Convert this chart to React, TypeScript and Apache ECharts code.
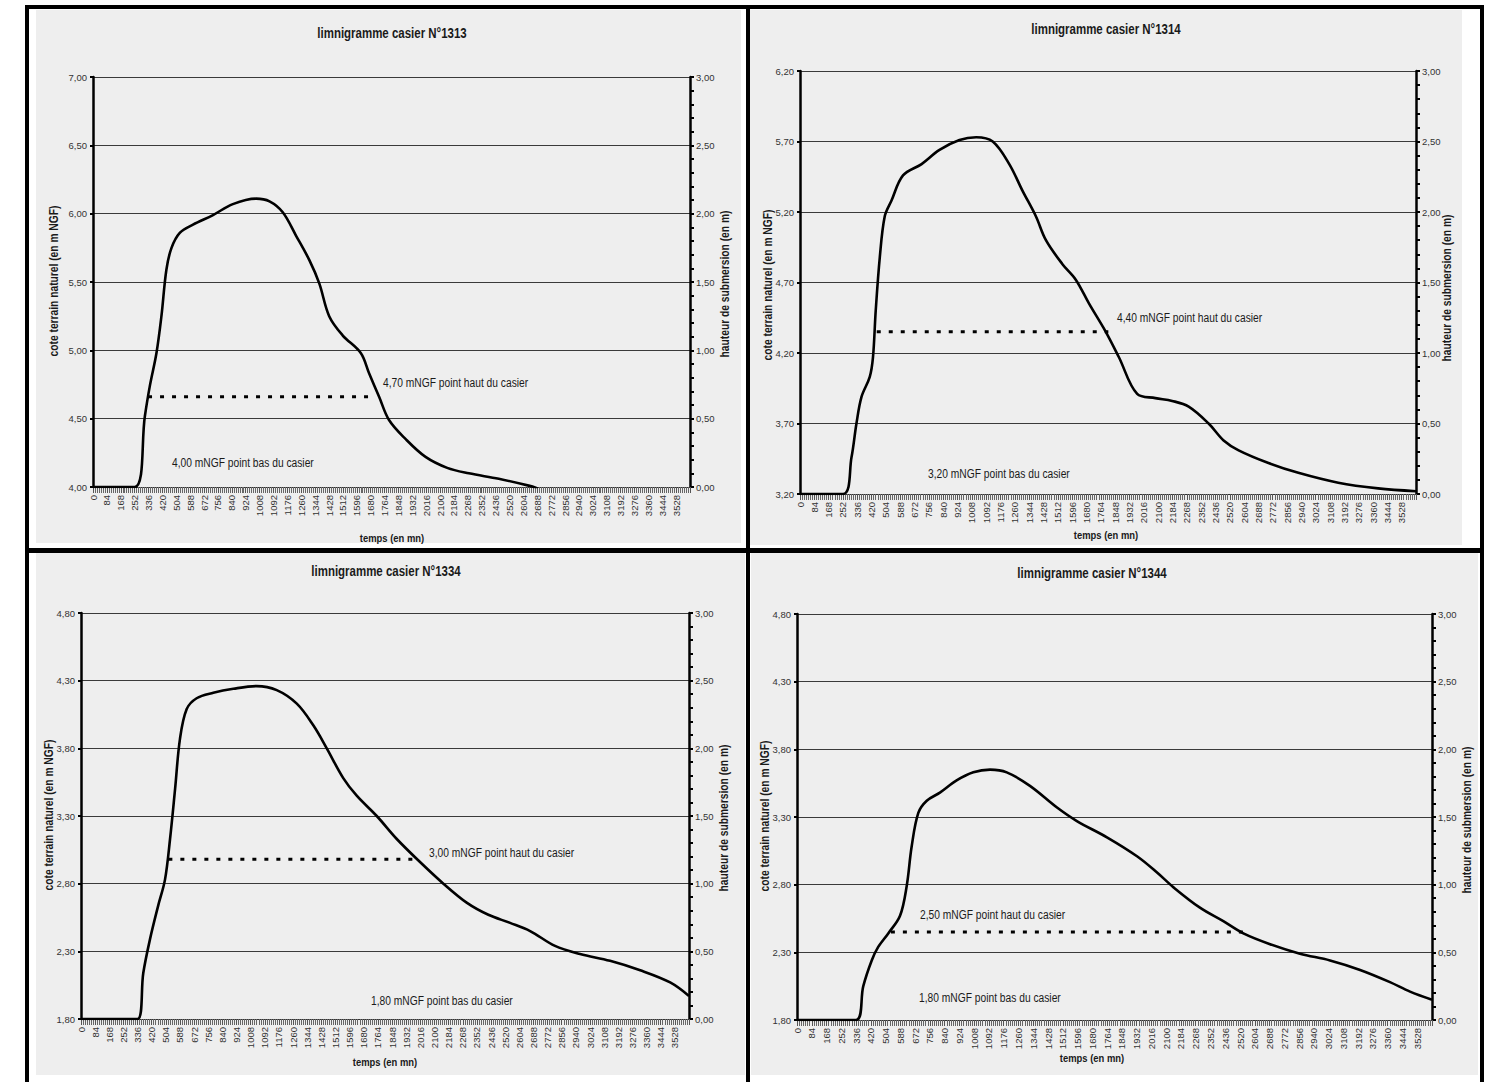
import React, { useEffect, useRef } from "react";
import * as echarts from "echarts";

// ---------- data ----------
const titles = [
  "limnigramme casier N°1313",
  "limnigramme casier N°1314",
  "limnigramme casier N°1334",
  "limnigramme casier N°1344",
];
const leftMins = [4.0, 3.2, 1.8, 1.8];
const timeMax = 3612;
const timeStep = 84;

// casier 1313
const t1 = [0, 252, 314, 344, 384, 414, 444, 475, 525, 605, 726, 846, 987, 1068, 1148, 1228, 1309, 1369, 1429, 1510, 1620, 1671, 1731, 1791, 1892, 2012, 2143, 2274, 2455, 2636, 2690];
const v1 = [4.0, 4.0, 4.52, 4.74, 4.98, 5.25, 5.59, 5.75, 5.86, 5.92, 5.99, 6.07, 6.11, 6.09, 6.01, 5.84, 5.66, 5.49, 5.25, 5.11, 4.98, 4.83, 4.66, 4.49, 4.35, 4.22, 4.14, 4.1, 4.06, 4.01, 3.99];
// casier 1314
const t2 = [0, 252, 302, 331, 361, 409, 428, 444, 468, 497, 536, 604, 713, 818, 935, 1033, 1130, 1227, 1305, 1383, 1442, 1539, 1617, 1695, 1793, 1870, 1977, 2084, 2182, 2279, 2396, 2484, 2572, 2747, 2922, 3156, 3390, 3612];
const v2 = [3.2, 3.2, 3.46, 3.7, 3.89, 4.03, 4.17, 4.5, 4.88, 5.17, 5.28, 5.46, 5.54, 5.64, 5.71, 5.73, 5.7, 5.54, 5.35, 5.17, 5.0, 4.83, 4.72, 4.55, 4.35, 4.17, 3.91, 3.88, 3.86, 3.82, 3.7, 3.58, 3.51, 3.42, 3.35, 3.28, 3.24, 3.22];
// casier 1334
const t3 = [0, 336, 370, 410, 459, 499, 529, 559, 588, 628, 687, 786, 905, 1044, 1163, 1282, 1380, 1460, 1558, 1638, 1757, 1876, 2014, 2153, 2291, 2420, 2549, 2668, 2816, 2965, 3143, 3322, 3500, 3612];
const v3 = [1.8, 1.8, 2.14, 2.39, 2.64, 2.83, 3.13, 3.5, 3.87, 4.09, 4.17, 4.21, 4.24, 4.26, 4.23, 4.13, 3.97, 3.8, 3.58, 3.45, 3.3, 3.13, 2.96, 2.8, 2.66, 2.57, 2.51, 2.45, 2.34, 2.28, 2.23, 2.16, 2.07, 1.97];
// casier 1344
const t4 = [0, 336, 377, 425, 462, 519, 586, 624, 652, 690, 738, 813, 908, 1003, 1098, 1193, 1325, 1479, 1592, 1763, 1934, 2048, 2142, 2292, 2425, 2539, 2691, 2861, 3032, 3203, 3373, 3487, 3612];
const v4 = [1.8, 1.8, 2.05, 2.24, 2.34, 2.44, 2.57, 2.79, 3.08, 3.33, 3.42, 3.48, 3.57, 3.63, 3.65, 3.63, 3.53, 3.37, 3.27, 3.15, 3.01, 2.89, 2.78, 2.63, 2.53, 2.44, 2.36, 2.29, 2.24, 2.17, 2.08, 2.01, 1.95];

const hautLevels = [4.66, 4.35, 2.98, 2.45];
const hautStarts = [333, 450, 519, 534];
const hautEnds = [1694, 1808, 2004, 2539];
const hautLabels = [
  "4,70 mNGF point haut du casier",
  "4,40 mNGF point haut du casier",
  "3,00 mNGF point haut du casier",
  "2,50 mNGF point haut du casier",
];
const basLabels = [
  "4,00 mNGF point bas du casier",
  "3,20 mNGF point bas du casier",
  "1,80 mNGF point bas du casier",
  "1,80 mNGF point bas du casier",
];
const leftAxisName = "cote terrain naturel (en m NGF)";
const rightAxisName = "hauteur de submersion (en m)";
const xAxisName = "temps (en mn)";

// ---------- layout ----------
const FONT = "'Liberation Sans', Arial, sans-serif";
const NARROW = 0.82;
const W = 1497;
const H = 1082;
const grids = [
  { left: 93, top: 77, width: 597, height: 410 },
  { left: 800, top: 71, width: 616, height: 423 },
  { left: 81, top: 613, width: 608, height: 406 },
  { left: 797, top: 614, width: 635, height: 406 },
];
const titlePos = [[392, 33], [1106, 29], [386, 571], [1092, 573]];
const hautPos = [[383, 383], [1117, 318], [429, 853], [920, 915]];
const basPos = [[172, 463], [928, 474], [371, 1001], [919, 998]];
const leftNamePos = [[54, 281], [768, 285], [49, 815], [765, 816]];
const rightNamePos = [[725, 284], [1447, 288], [724, 818], [1467, 820]];
const xNamePos = [[392, 538], [1106, 535], [385, 1062], [1092, 1058]];
const papers = [
  [36, 10, 705, 533],
  [750, 10, 712, 535],
  [36, 553, 709, 522],
  [751, 553, 727, 522],
];
const frames = [
  [25, 5, 1459, 4],
  [25, 5, 4, 1077],
  [1480, 5, 4, 1077],
  [746, 5, 4, 1077],
  [25, 548, 1459, 5],
];

const fmt = (v: number) => v.toFixed(2).replace(".", ",");

function narrowText(text: string, x: number, y: number, size: number, bold: boolean, align: string, rotation = 0) {
  return {
    type: "text",
    x,
    y,
    rotation,
    scaleX: NARROW,
    silent: true,
    z: 10,
    style: {
      text,
      fontFamily: FONT,
      fontWeight: bold ? "bold" : "normal",
      fontSize: size,
      fill: "#1a1a1a",
      textAlign: align,
      textVerticalAlign: "middle",
    },
  };
}

export default function App() {
  const ref = useRef<HTMLDivElement>(null);
  useEffect(() => {
    if (!ref.current) return;
    const chart = echarts.init(ref.current, undefined, { renderer: "svg" });
    const ts = [t1, t2, t3, t4];
    const vs = [v1, v2, v3, v4];

    const xAxis: any[] = [];
    const yAxis: any[] = [];
    const series: any[] = [];
    const graphic: any[] = [];

    papers.forEach(([x, y, w, h]) =>
      graphic.push({ type: "rect", z: -100, silent: true, shape: { x, y, width: w, height: h }, style: { fill: "#eeeeee" } })
    );
    frames.forEach(([x, y, w, h]) =>
      graphic.push({ type: "rect", z: 100, silent: true, shape: { x, y, width: w, height: h }, style: { fill: "#000" } })
    );

    for (let i = 0; i < 4; i++) {
      xAxis.push({
        gridIndex: i,
        type: "value",
        min: 0,
        max: timeMax,
        interval: timeStep,
        axisLine: { onZero: false, lineStyle: { color: "#333", width: 1 } },
        axisTick: { show: true, length: 6, lineStyle: { color: "#555", width: 1 } },
        minorTick: { show: true, splitNumber: 7, length: 6, lineStyle: { color: "#666", width: 1 } },
        splitLine: { show: false },
        axisLabel: {
          rotate: 90,
          fontSize: 9.5,
          fontFamily: FONT,
          color: "#333",
          margin: 8,
          showMaxLabel: false,
          formatter: (v: number) => String(v),
        },
      });
      yAxis.push({
        gridIndex: i,
        type: "value",
        position: "left",
        min: leftMins[i],
        max: leftMins[i] + 3,
        interval: 0.5,
        axisLine: { show: true, lineStyle: { color: "#000", width: 2.5 } },
        axisTick: { show: true, length: 3, lineStyle: { color: "#000", width: 2 } },
        axisLabel: { formatter: fmt, fontSize: 9.5, fontFamily: FONT, color: "#333", margin: 6 },
        splitLine: { show: true, lineStyle: { color: "#3a3a3a", width: 1 } },
      });
      yAxis.push({
        gridIndex: i,
        type: "value",
        position: "right",
        min: 0,
        max: 3,
        interval: 0.5,
        axisLine: { show: true, lineStyle: { color: "#000", width: 2.5 } },
        axisTick: { show: true, length: 4, lineStyle: { color: "#000", width: 2 } },
        minorTick: { show: true, splitNumber: 5, length: 4, lineStyle: { color: "#000", width: 2 } },
        axisLabel: { formatter: fmt, fontSize: 9.5, fontFamily: FONT, color: "#333", margin: 6 },
        splitLine: { show: false },
      });
      series.push({
        type: "line",
        xAxisIndex: i,
        yAxisIndex: 2 * i,
        data: ts[i].map((t, k) => [t, vs[i][k]]),
        smooth: 0.35,
        symbol: "none",
        lineStyle: { color: "#000", width: 2.6 },
        clip: true,
        z: 5,
      });
      series.push({
        type: "line",
        xAxisIndex: i,
        yAxisIndex: 2 * i,
        data: [
          [hautStarts[i], hautLevels[i]],
          [hautEnds[i], hautLevels[i]],
        ],
        symbol: "none",
        lineStyle: { color: "#000", width: 3, type: [4, 8], cap: "butt" },
        z: 4,
      });
      graphic.push(narrowText(titles[i], titlePos[i][0], titlePos[i][1], 14, true, "center"));
      graphic.push(narrowText(hautLabels[i], hautPos[i][0], hautPos[i][1], 12.5, false, "left"));
      graphic.push(narrowText(basLabels[i], basPos[i][0], basPos[i][1], 12.5, false, "left"));
      graphic.push(narrowText(leftAxisName, leftNamePos[i][0], leftNamePos[i][1], 12.5, true, "center", Math.PI / 2));
      graphic.push(narrowText(rightAxisName, rightNamePos[i][0], rightNamePos[i][1], 12.5, true, "center", Math.PI / 2));
      graphic.push(narrowText(xAxisName, xNamePos[i][0], xNamePos[i][1], 11.5, true, "center"));
    }

    chart.setOption({
      animation: false,
      backgroundColor: "#ffffff",
      grid: grids.map((g) => ({ ...g, containLabel: false })),
      xAxis,
      yAxis,
      series,
      graphic,
    });
    return () => chart.dispose();
  }, []);
  return (
    <div
      ref={ref}
      style={{ position: "fixed", left: 0, top: 0, width: W, height: H, background: "#fff" }}
    />
  );
}
